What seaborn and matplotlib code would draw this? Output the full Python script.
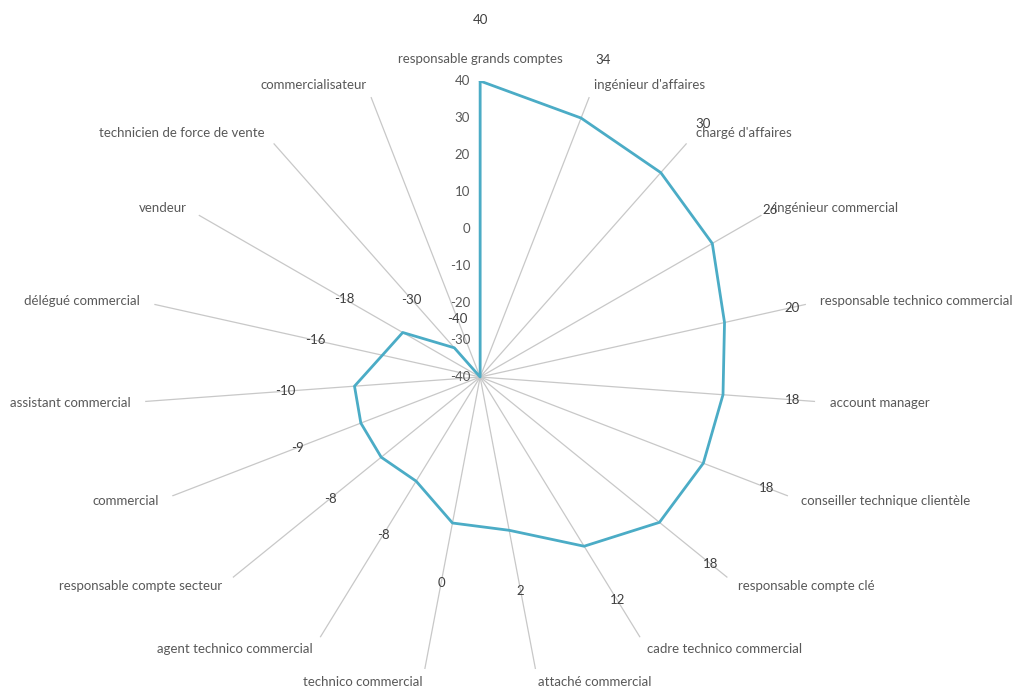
import numpy as np
import pandas as pd
import matplotlib
matplotlib.use("Agg")
import matplotlib.pyplot as plt
from matplotlib.transforms import offset_copy
import seaborn as sns

# Job titles, listed clockwise from the top
categories = [
    "responsable grands comptes", "ingénieur d'affaires", "chargé d'affaires",
    "ingénieur commercial", "responsable technico commercial", "account manager",
    "conseiller technique clientèle", "responsable compte clé",
    "cadre technico commercial", "attaché commercial", "technico commercial",
    "agent technico commercial", "responsable compte secteur", "commercial",
    "assistant commercial", "délégué commercial", "vendeur",
    "technicien de force de vente", "commercialisateur",
]
scores = [40, 34, 30, 26, 20, 18, 18, 18, 12, 2, 0, -8, -8, -9, -10, -16, -18, -30, -40]
radial_ticks = [-40, -30, -20, -10, 0, 10, 20, 30, 40]

sns.set_theme(style="white")
plt.rcParams["font.family"] = ["Lato", "DejaVu Sans"]

LINE = "#4BACC6"
SPOKE = "#C8C8C8"
TEXT = "#595959"
LABEL = "#404040"

n = len(categories)
theta = np.arange(n) * 2 * np.pi / n

fig = plt.figure(figsize=(10.14, 6.90), dpi=100)
ax = fig.add_axes([0.142, 0.0246, 0.663, 0.858], projection="polar")
ax.set_aspect("auto")
ax.set_theta_zero_location("N")
ax.set_theta_direction(-1)
ax.set_ylim(-40, 40)

# spokes only, no circular web
ax.set_xticks(theta)
ax.set_xticklabels([])
ax.set_yticks(radial_ticks)
ax.set_yticklabels([])
ax.xaxis.grid(True, color=SPOKE, linewidth=0.9)
ax.yaxis.grid(False)
ax.spines["polar"].set_visible(False)
ax.tick_params(length=0)

# closed series outline
df = pd.DataFrame({
    "theta": np.append(theta, theta[0]),
    "score": scores + scores[:1],
})
sns.lineplot(data=df, x="theta", y="score", sort=False, estimator=None,
             color=LINE, linewidth=2.0, ax=ax, zorder=3)
ax.set_xlabel("")
ax.set_ylabel("")

# radial scale on the top spoke
tick_tr = offset_copy(ax.transData, fig=fig, x=-10, y=0, units="dots")
for t in radial_ticks:
    ax.text(0, t, str(t), transform=tick_tr, ha="right", va="center",
            fontsize=9.5, color=TEXT, zorder=4)

# value labels and category names
for ang, name, v in zip(theta, categories, scores):
    ax.text(ang, v + 16.5, str(v), ha="center", va="center",
            fontsize=9.5, color=LABEL, zorder=4)
    deg = np.degrees(ang)
    if np.isclose(deg, 0):
        ha, r = "center", 46
    elif deg < 180:
        ha, r = "left", 43.5
    else:
        ha, r = "right", 43.5
    ax.text(ang, r, name, ha=ha, va="center", fontsize=9.5, color=TEXT)

fig.savefig("out.png", dpi=100, facecolor="white")
